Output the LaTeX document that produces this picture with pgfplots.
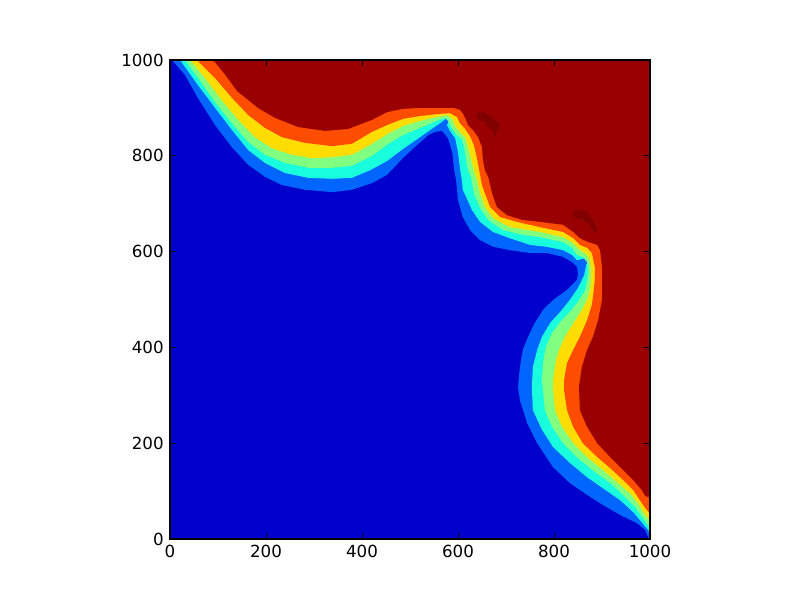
\documentclass[border=0pt]{standalone}
\usepackage{fontspec}
\setmainfont{DejaVu Sans}
\usepackage{pgfplots}
\pgfplotsset{compat=1.18}
\definecolor{cdb}{HTML}{0000CC}
\definecolor{clb}{HTML}{0066FF}
\definecolor{ccy}{HTML}{19FFDE}
\definecolor{cgr}{HTML}{80FF80}
\definecolor{cye}{HTML}{FFDD00}
\definecolor{cor}{HTML}{FF4D00}
\definecolor{crd}{HTML}{990000}
\definecolor{cbl}{HTML}{800000}
\begin{document}
\begin{tikzpicture}
\useasboundingbox (-122.4pt,-43.92pt) rectangle (453.6pt,388.08pt);
\begin{axis}[
  at={(0,0)}, anchor=south west,
  scale only axis, width=345.6pt, height=344.9pt,
  xmin=0, xmax=1000, ymin=0, ymax=1000,
  xtick={0,200,...,1000}, ytick={0,200,...,1000},
  minor tick num=0,
  tick align=inside, major tick length=4pt,
  every tick/.style={black, line width=0.5pt},
  axis line style={line width=1pt},
  axis on top,
  /pgf/number format/assume math mode=true,
  /pgf/number format/1000 sep={},
  tick label style={font=\fontsize{12}{14}\selectfont},
  xticklabel style={yshift=-1pt},
  yticklabel style={xshift=-1pt},
]
% background: dark blue
\addplot[fill=cdb, draw=none] coordinates {(0,0) (1000,0) (1000,1000) (0,1000)} -- cycle;
% light blue (above B1)
\addplot[fill=clb, draw=none] coordinates {
(4,1000) (31,969) (58,921) (94,864) (129,818) (163,781) (198,756) (233,739)
(281,729) (338,724) (379,729) (421,743) (452,760) (485,795) (515,823) (538,843)
(552,850) (567,852) (579,837) (588,808) (592,770) (596,749) (600,708) (610,672)
(625,645) (646,624) (673,610) (708,603) (750,597) (785,597) (819,589) (838,578)
(848,568) (850,555) (848,541) (827,520) (798,499) (777,478) (760,451) (746,422)
(735,395) (729,359) (725,317) (729,290) (744,242) (765,200) (798,150) (833,117)
(869,92) (902,71) (938,50) (973,33) (990,19) (996,4) (1000,0) (1000,1000)} -- cycle;
% cyan (above B2)
\addplot[fill=ccy, draw=none] coordinates {
(21,1000) (58,948) (94,900) (129,854) (163,812) (198,785) (240,764) (288,754)
(338,752) (379,754) (417,770) (452,789) (485,814) (521,839) (548,858) (567,871)
(581,883) (585,879) (577,864) (583,852) (594,837) (600,808) (604,775) (608,749)
(610,729) (617,714) (629,687) (646,662) (673,641) (708,628) (750,614) (785,610)
(819,603) (838,593) (848,582) (860,585) (877,589) (867,572) (863,551) (850,524)
(833,499) (813,474) (792,451) (775,422) (765,395) (756,359) (754,317) (756,269)
(775,228) (798,192) (833,159) (869,129) (902,106) (938,81) (965,56) (983,35)
(996,19) (1000,13) (1000,1000)} -- cycle;
% green (above B3)
\addplot[fill=cgr, draw=none] coordinates {
(31,1000) (62,958) (94,912) (129,868) (163,829) (198,802) (240,785) (288,775)
(338,775) (379,779) (421,800) (452,823) (485,843) (521,858) (556,873) (573,879)
(579,873) (588,856) (598,843) (608,835) (613,818) (617,791) (621,770) (627,756)
(633,722) (646,691) (663,666) (694,645) (735,635) (771,630) (819,620) (838,608)
(848,593) (860,589) (869,578) (871,562) (869,541) (865,520) (850,495) (833,474)
(813,453) (796,430) (783,401) (777,367) (775,332) (777,311) (781,269) (796,234)
(819,200) (850,169) (885,140) (917,117) (944,92) (969,67) (985,44) (996,29)
(1000,23) (1000,1000)} -- cycle;
% yellow (above B4)
\addplot[fill=cye, draw=none] coordinates {
(42,1000) (73,962) (108,916) (142,875) (177,839) (212,816) (254,802) (296,795)
(338,797) (379,802) (421,825) (452,845) (485,862) (521,873) (556,881) (577,885)
(588,877) (594,862) (604,850) (615,839) (621,818) (627,795) (633,770) (640,749)
(646,722) (656,693) (673,670) (708,651) (771,641) (819,630) (840,618) (854,603)
(865,597) (873,587) (877,568) (877,541) (875,520) (869,499) (858,478) (842,453)
(825,426) (813,401) (804,374) (798,332) (798,311) (802,269) (817,234) (840,200)
(869,171) (902,144) (931,119) (958,96) (975,75) (990,50) (1000,38) (1000,1000)} -- cycle;
% orange (above B5)
\addplot[fill=cor, draw=none] coordinates {
(56,1000) (94,962) (129,921) (163,885) (198,858) (233,839) (281,827) (338,820)
(379,825) (421,850) (452,864) (485,877) (521,883) (556,887) (583,889) (598,881)
(604,868) (615,856) (625,841) (633,823) (638,802) (642,781) (646,760) (650,739)
(656,722) (667,693) (688,672) (723,662) (771,651) (819,641) (840,628) (854,614)
(869,608) (879,597) (885,568) (885,541) (883,520) (879,489) (869,457) (854,422)
(840,395) (827,367) (821,332) (821,311) (827,269) (840,234) (860,200) (890,171)
(917,148) (944,123) (965,102) (979,81) (990,65) (1000,52) (1000,1000)} -- cycle;
% dark red (above B6)
\addplot[fill=crd, draw=none] coordinates {
(90,1000) (115,969) (140,935) (183,900) (219,879) (267,860) (323,852) (371,856)
(421,875) (452,891) (485,898) (521,900) (556,900) (590,900) (604,896) (610,889)
(615,879) (621,864) (631,854) (642,839) (650,818) (652,791) (656,770) (663,756)
(671,722) (681,693) (702,676) (735,666) (771,662) (819,656) (840,641) (854,628)
(871,620) (890,614) (896,603) (900,568) (900,499) (892,457) (881,422) (869,395)
(858,359) (852,317) (854,269) (869,234) (890,200) (917,171) (944,144) (965,123)
(983,102) (990,90) (1000,86) (1000,1000)} -- cycle;
% darker blobs
\addplot[fill=cbl, draw=none] coordinates {
(638,889) (652,891) (667,883) (681,873) (688,862) (681,850) (677,837) (671,854)
(660,860) (656,871) (642,875)} -- cycle;
\addplot[fill=cbl, draw=none] coordinates {
(838,681) (850,687) (867,685) (875,674) (883,662) (890,647) (888,639) (879,645)
(871,660) (860,666) (846,670)} -- cycle;
\end{axis}
\end{tikzpicture}
\end{document}
